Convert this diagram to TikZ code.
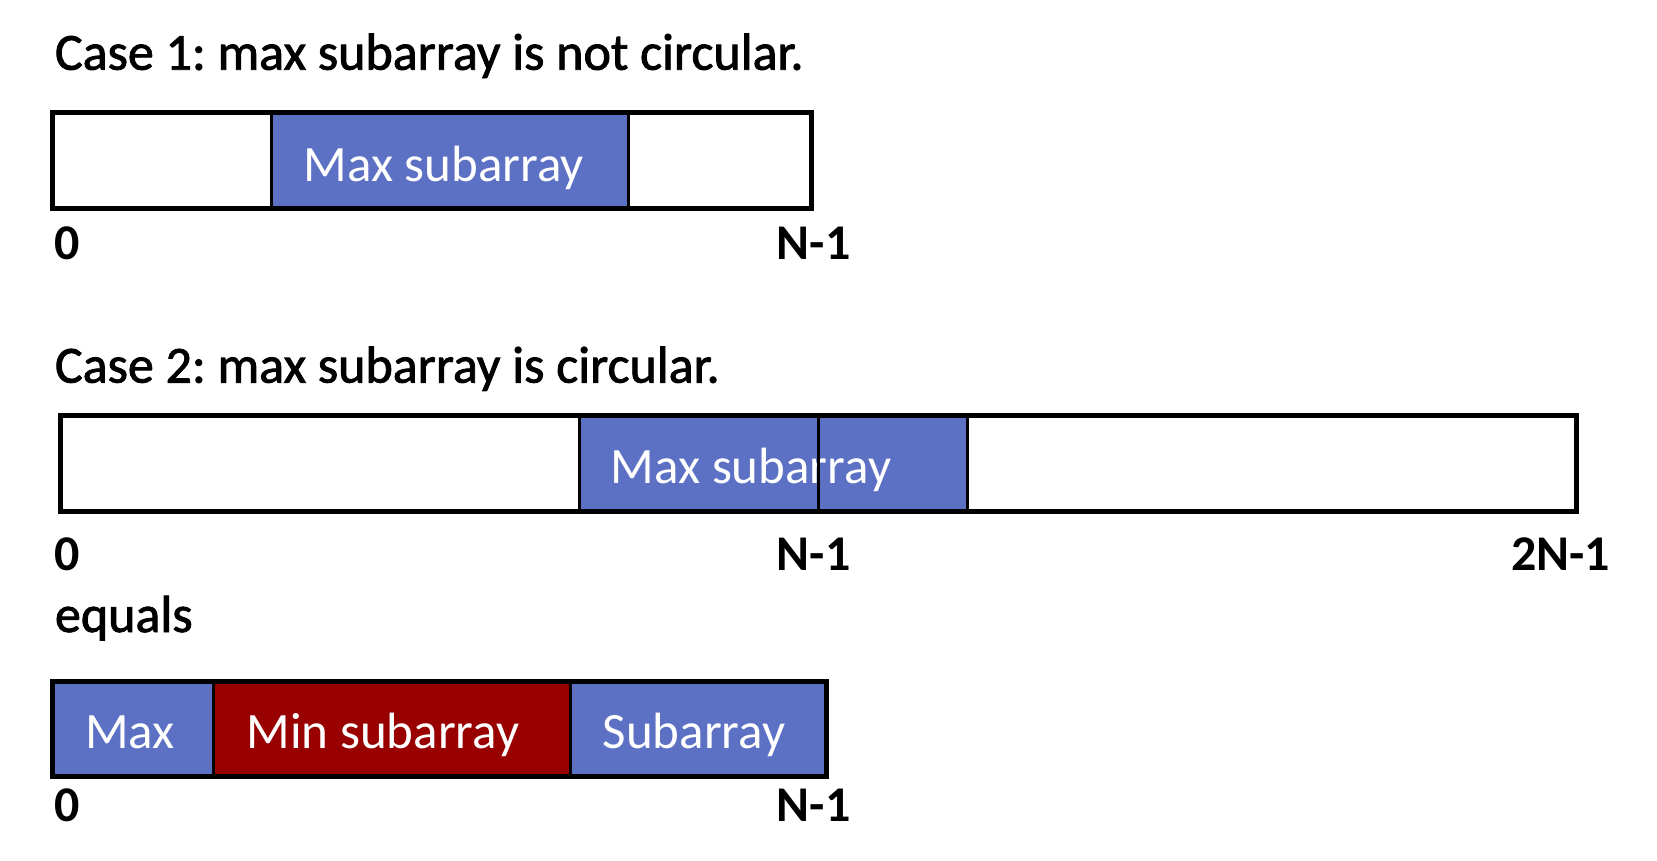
\documentclass[tikz,border=0pt]{standalone}
\usepackage{fontspec}
\setmainfont{Carlito}
\newfontfamily\heavyfont{Carlito}[FakeBold=1.6]
\frenchspacing
\definecolor{segblue}{RGB}{92,112,196}
\definecolor{segred}{RGB}{153,0,0}
\begin{document}
\begin{tikzpicture}[x=1pt,y=-1pt,
  every node/.style={inner sep=0pt, outer sep=0pt},
  lbl/.style={font=\heavyfont\fontsize{52}{60}\selectfont, anchor=base west},
  idx/.style={font=\fontsize{50}{60}\selectfont\bfseries, anchor=base west},
  seg/.style={font=\fontsize{51}{60}\selectfont, text=white, anchor=base},
  frame/.style={draw=black, line width=5pt},
  divider/.style={draw=black, line width=3pt}
]
\useasboundingbox (0,0) rectangle (1657,861);

% Case 1
\node[lbl] (t1) at (55,69.7) {Case 1: max subarray is not circular.};
\fill[segblue] (271.6,113) rectangle (628.8,208.2);
\draw[divider] (271.6,113) -- (271.6,208.2);
\draw[divider] (628.8,113) -- (628.8,208.2);
\node[seg] (s1) at (443.9,181.8) {Max subarray};
\draw[frame] (52.8,113) rectangle (811.6,208.2);
\node[idx] (a0) at (54,259) {0};
\node[idx] (an) at (776.8,259) {N-1};

% Case 2
\node[lbl] (t2) at (55,382.6) {Case 2: max subarray is circular.};
\fill[segblue] (579,415.3) rectangle (967,511.5);
\draw[divider] (579,415.3) -- (579,511.5);
\draw[divider] (967,415.3) -- (967,511.5);
\node[seg] (s2) at (751,483) {Max subarray};
\draw[divider] (818,415.3) -- (818,511.5);
\draw[frame] (60.2,415.3) rectangle (1576.8,511.5);
\node[idx] (b0) at (54,570.7) {0};
\node[idx] (bn) at (776.8,570.7) {N-1};
\node[idx] (b2n) at (1511,570.7) {2N-1};

\node[lbl] (eq) at (55,632) {equals};

% Decomposition
\fill[segblue] (52.8,681.6) rectangle (213.5,776.7);
\fill[segred] (213.5,681.6) rectangle (570.7,776.7);
\fill[segblue] (570.7,681.6) rectangle (826.4,776.7);
\draw[divider] (213.5,681.6) -- (213.5,776.7);
\draw[divider] (570.7,681.6) -- (570.7,776.7);
\node[seg] (m1) at (130,748) {Max};
\node[seg] (m2) at (383,748) {Min subarray};
\node[seg] (m3) at (694,748) {Subarray};
\draw[frame] (52.8,681.6) rectangle (826.4,776.7);
\node[idx] (c0) at (54,821) {0};
\node[idx] (cn) at (776.8,821) {N-1};
\end{tikzpicture}
\end{document}
